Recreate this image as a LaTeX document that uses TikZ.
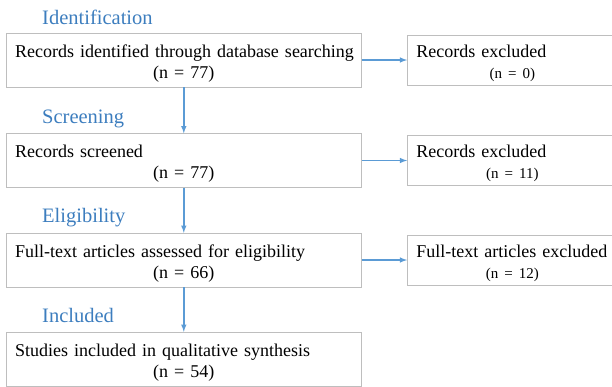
\documentclass[tikz,border=0pt]{standalone}
\usepackage{fontspec}
\setmainfont{Liberation Serif}
\usetikzlibrary{shapes,arrows}
\definecolor{stageblue}{RGB}{60,125,190}
\definecolor{linkblue}{RGB}{91,155,213}
\definecolor{boxgray}{RGB}{190,190,190}
\newcommand{\firstline}[1]{\makebox[\linewidth][l]{#1}}
\newcommand{\smallcount}[1]{{\fontsize{15}{21}\selectfont #1}}
\tikzstyle{stage} = [anchor=base west,inner sep=0pt,text=stageblue,font=\fontsize{20.5}{24}\selectfont]
\tikzstyle{record} = [rectangle,minimum width=355.5pt,minimum height=54pt,text width=337.5pt,inner xsep=9pt,inner ysep=2pt,text height=19pt,text depth=25pt,align=center,draw=boxgray,font=\fontsize{18}{21}\selectfont]
\tikzstyle{excluded} = [rectangle,minimum width=210pt,minimum height=50pt,text width=192pt,inner xsep=9pt,inner ysep=2pt,text height=19pt,text depth=25pt,align=center,draw=boxgray,font=\fontsize{18}{21}\selectfont]
\tikzstyle{arrow} = [line width=1.5pt,->,>=latex,draw=linkblue]

\begin{document}
\begin{tikzpicture}[node distance=99.5pt]
\useasboundingbox (0,0) rectangle (612pt,-386pt);

\node (stage1) [stage] at (42pt,-24pt) {Identification};
\node (stage2) [stage] at (42pt,-123pt) {Screening};
\node (stage3) [stage] at (42pt,-222.5pt) {Eligibility};
\node (stage4) [stage] at (42pt,-322pt) {Included};

\node (ident) [record] at (183.8pt,-60pt) {\firstline{Records identified through database searching}\\(n = 77)};
\node (screen) [record,below of=ident,yshift=-1pt] {\firstline{Records screened}\\(n = 77)};
\node (elig) [record,below of=screen] {\firstline{Full-text articles assessed for eligibility}\\(n = 66)};
\node (incl) [record,below of=elig,yshift=0.5pt] {\firstline{Studies included in qualitative synthesis}\\(n = 54)};

\node (excl1) [excluded,right of=ident,xshift=229pt] {\firstline{Records excluded}\\\smallcount{(n = 0)}};
\node (excl2) [excluded,right of=screen,xshift=229pt] {\firstline{Records excluded}\\\smallcount{(n = 11)}};
\node (excl3) [excluded,right of=elig,xshift=229pt] {\firstline{Full-text articles excluded}\\\smallcount{(n = 12)}};

\draw [arrow] (ident) -- (screen);
\draw [arrow] (screen) -- (elig);
\draw [arrow] (elig) -- (incl);
\draw [arrow] (ident) -- (excl1);
\draw [arrow] (screen) -- (excl2);
\draw [arrow] (elig) -- (excl3);

\end{tikzpicture}
\end{document}
